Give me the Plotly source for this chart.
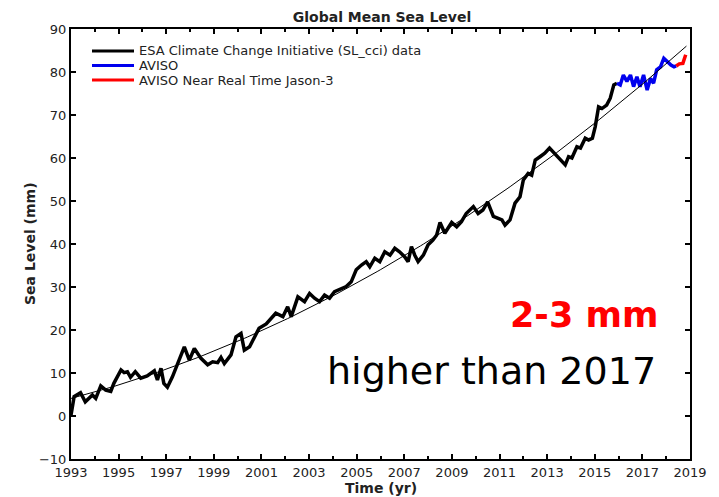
import numpy as np
import plotly.graph_objects as go

# ESA SL_cci data (black)
cci_time = [1993.00, 1993.13, 1993.40, 1993.60, 1993.90, 1994.04, 1994.25, 1994.46, 1994.67, 1994.80,
            1995.10, 1995.23, 1995.37, 1995.50, 1995.70, 1995.93, 1996.20, 1996.50, 1996.63, 1996.78,
            1996.90, 1997.05, 1997.26, 1997.47, 1997.76, 1997.97, 1998.18, 1998.46, 1998.74, 1998.95,
            1999.16, 1999.30, 1999.44, 1999.72, 1999.93, 2000.14, 2000.28, 2000.50, 2000.70, 2000.90,
            2001.20, 2001.60, 2001.90, 2002.10, 2002.25, 2002.53, 2002.81, 2003.02, 2003.23, 2003.44,
            2003.65, 2003.86, 2004.07, 2004.35, 2004.56, 2004.77, 2004.98, 2005.20, 2005.40, 2005.55,
            2005.76, 2005.97, 2006.18, 2006.40, 2006.60, 2006.80, 2007.02, 2007.16, 2007.30, 2007.44,
            2007.58, 2007.80, 2008.00, 2008.20, 2008.36, 2008.50, 2008.70, 2008.99, 2009.20, 2009.40,
            2009.60, 2009.90, 2010.10, 2010.30, 2010.50, 2010.74, 2010.95, 2011.10, 2011.23, 2011.44,
            2011.65, 2011.86, 2012.00, 2012.20, 2012.35, 2012.50, 2012.70, 2012.90, 2013.10, 2013.30,
            2013.55, 2013.76, 2013.90, 2014.04, 2014.25, 2014.40, 2014.60, 2014.74, 2014.90, 2015.02,
            2015.16, 2015.30, 2015.50, 2015.65, 2015.80, 2015.93]
cci_level = [0.2, 4.5, 5.4, 3.3, 4.9, 4.1, 7.0, 6.0, 5.7, 7.6,
             10.7, 10.1, 10.3, 9.0, 10.3, 8.8, 9.3, 10.5, 8.4, 11.1,
             7.6, 6.7, 9.1, 12.2, 16.1, 13.0, 15.7, 13.4, 11.9, 12.6,
             12.4, 13.6, 12.2, 14.2, 18.4, 19.2, 15.3, 16.1, 18.1, 20.4,
             21.4, 23.9, 23.1, 25.4, 23.1, 27.7, 26.6, 28.5, 27.4, 26.6,
             28.1, 27.4, 28.9, 29.7, 30.1, 31.2, 34.0, 35.1, 35.9, 34.7,
             36.7, 35.9, 38.2, 37.4, 39.0, 38.2, 37.0, 35.9, 39.4, 37.4,
             35.9, 37.4, 39.8, 40.9, 42.1, 45.0, 42.5, 45.0, 44.0, 45.2,
             47.1, 48.7, 47.1, 47.9, 49.8, 46.4, 46.0, 45.6, 44.4, 45.6,
             49.5, 51.0, 54.9, 56.4, 56.0, 59.5, 60.3, 61.1, 62.3, 61.1,
             59.5, 58.4, 60.3, 60.0, 62.6, 62.3, 64.6, 64.2, 64.6, 67.3,
             71.9, 71.5, 72.3, 73.9, 77.0, 77.4]

# AVISO (blue)
aviso_time = [2015.93, 2016.07, 2016.20, 2016.35, 2016.50, 2016.63, 2016.77, 2016.90, 2017.05, 2017.20,
              2017.34, 2017.47, 2017.60, 2017.76, 2017.90, 2018.04, 2018.20, 2018.33, 2018.42]
aviso_level = [77.4, 77.0, 79.3, 77.8, 79.3, 76.6, 78.9, 76.6, 79.3, 75.8,
               78.5, 77.4, 80.5, 81.2, 83.2, 82.4, 81.6, 81.2, 81.4]

# AVISO NRT Jason-3 (red)
nrt_time = [2018.42, 2018.55, 2018.70, 2018.82]
nrt_level = [81.4, 81.9, 82.0, 84.0]

x_ticks = [1993, 1995, 1997, 1999, 2001, 2003, 2005, 2007, 2009, 2011, 2013, 2015, 2017, 2019]
y_ticks = [-10, 0, 10, 20, 30, 40, 50, 60, 70, 80, 90]

legend_names = ["ESA Climate Change Initiative (SL_cci) data", "AVISO", "AVISO Near Real Time Jason-3"]
legend_colors = ["black", "#0000ee", "#ff0000"]

# quadratic trend fitted to the altimetry record
all_t = np.array(cci_time + aviso_time[1:])
all_v = np.array(cci_level + aviso_level[1:])
coef = np.polyfit(all_t - 1993, all_v, 2)
trend_t = np.linspace(1993.0, 2018.85, 200)
trend_v = np.polyval(coef, trend_t - 1993)

FONT = "DejaVu Sans"
OFF = 8  # page body margin
W, H = 719 - OFF, 497 - OFF
ML, MR, MT, MB = 71 - OFF, 29, 29 - OFF, 38
PW, PH = W - ML - MR, H - MT - MB


def px_x(xw):  # window x pixel -> paper x
    return (xw - OFF - ML) / PW


def px_y(yw):  # window y pixel -> paper y
    return 1 - (yw - OFF - MT) / PH


fig = go.Figure()
fig.add_trace(go.Scatter(x=cci_time, y=cci_level, mode="lines",
                         line=dict(color=legend_colors[0], width=3.5), name=legend_names[0]))
fig.add_trace(go.Scatter(x=aviso_time, y=aviso_level, mode="lines",
                         line=dict(color=legend_colors[1], width=3.5), name=legend_names[1]))
fig.add_trace(go.Scatter(x=nrt_time, y=nrt_level, mode="lines",
                         line=dict(color=legend_colors[2], width=3.5), name=legend_names[2]))
fig.add_trace(go.Scatter(x=trend_t, y=trend_v, mode="lines",
                         line=dict(color="black", width=1), name="trend"))

axis_common = dict(showline=True, linecolor="black", linewidth=2, mirror="ticks",
                   ticks="inside", ticklen=5, tickwidth=1.5, tickcolor="black",
                   showgrid=False, zeroline=False, automargin=False,
                   tickfont=dict(family=FONT, size=13, color="#222"))

fig.update_xaxes(range=[1993, 2019], tickvals=x_ticks, ticktext=[str(v) for v in x_ticks],
                 minor=dict(dtick=1, tick0=1993, ticks="inside", ticklen=3, tickwidth=1.5, tickcolor="black"),
                 **axis_common)
fig.update_yaxes(range=[-10, 90], tickvals=y_ticks, **axis_common)

# axis titles
fig.add_annotation(text="<b>Time (yr)</b>", xref="paper", yref="paper", x=0.5, y=px_y(488),
                   xanchor="center", yanchor="middle", showarrow=False,
                   font=dict(family=FONT, size=14, color="#222"))
fig.add_annotation(text="<b>Sea Level (mm)</b>", xref="paper", yref="paper", x=px_x(30), y=0.5,
                   xanchor="center", yanchor="middle", showarrow=False, textangle=-90,
                   font=dict(family=FONT, size=14, color="#222"))

# legend (drawn inside the axes, upper left)
leg_y_px = [51, 65.5, 80]
for name, col, ypx in zip(legend_names, legend_colors, leg_y_px):
    yp = px_y(ypx)
    fig.add_shape(type="line", xref="paper", yref="paper",
                  x0=px_x(92), x1=px_x(134), y0=yp, y1=yp,
                  line=dict(color=col, width=3))
    fig.add_annotation(text=name, xref="paper", yref="paper", x=px_x(137), y=yp,
                       xanchor="left", yanchor="middle", showarrow=False,
                       font=dict(family=FONT, size=13, color="#222"))

fig.add_annotation(text="<b>2-3 mm</b>", xref="paper", yref="paper", x=px_x(660), y=px_y(315),
                   xanchor="right", yanchor="middle", showarrow=False,
                   font=dict(family=FONT, size=35, color="#ff0000"))
fig.add_annotation(text="higher than 2017", xref="paper", yref="paper", x=px_x(658), y=px_y(371),
                   xanchor="right", yanchor="middle", showarrow=False,
                   font=dict(family=FONT, size=38, color="black"))

fig.update_layout(
    width=W, height=H,
    margin=dict(l=ML, r=MR, t=MT, b=MB, autoexpand=False),
    paper_bgcolor="white", plot_bgcolor="white",
    title=dict(text="<b>Global Mean Sea Level</b>", x=(382 - OFF) / W, xanchor="center",
               y=1 - (17 - OFF) / H, yanchor="middle", yref="container",
               font=dict(family=FONT, size=14, color="#222")),
    showlegend=False,
)

fig.write_html("out.html")
